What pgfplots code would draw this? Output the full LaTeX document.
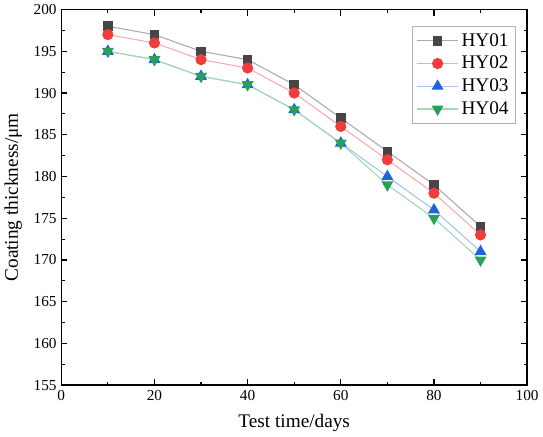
\documentclass[border=0pt]{standalone}
\usepackage{fontspec}
\setmainfont{Liberation Serif}
\usepackage{pgfplots}
\pgfplotsset{compat=1.18}

\definecolor{cA}{RGB}{70,70,70}
\definecolor{cAl}{RGB}{170,170,170}
\definecolor{cB}{RGB}{240,60,60}
\definecolor{cBl}{RGB}{250,170,170}
\definecolor{cC}{RGB}{30,100,220}
\definecolor{cCl}{RGB}{160,195,240}
\definecolor{cD}{RGB}{40,160,90}
\definecolor{cDl}{RGB}{160,215,180}

\begin{document}
\begin{tikzpicture}
\begin{axis}[
scale only axis,
width=351pt,
height=283pt,
xmin=0, xmax=100,
ymin=155, ymax=200,
xtick={0,20,...,100},
ytick={155,160,...,200},
minor x tick num=1,
minor y tick num=1,
tick align=inside,
major tick length=4.5pt,
minor tick length=2.5pt,
axis line style={line width=1.1pt},
every tick/.style={line width=0.9pt, black},
/pgf/number format/assume math mode=true,
tick label style={font=\fontsize{11.5}{12}\selectfont},
xlabel={Test time/days},
ylabel={Coating thickness/μm},
label style={font=\fontsize{14.5}{15}\selectfont},
xlabel style={yshift=-4pt},
ylabel style={yshift=2pt},
legend style={
    at={(0.975,0.955)},
    anchor=north east,
    draw=gray!60,
    font=\fontsize{14.5}{15}\selectfont,
    row sep=2pt,
    inner sep=3pt,
},
legend image code/.code={%
    \draw[mark repeat=2,mark phase=2] plot coordinates {(0cm,0cm)(0.55cm,0cm)(1.1cm,0cm)};},
legend cell align=left,
]
\addplot[cAl, line width=0.8pt, mark=square*, mark size=3.2pt, mark options={cA, solid}] coordinates {
(10,198)(20,197)(30,195)(40,194)(50,191)(60,187)(70,183)(80,179)(90,174)};
\addlegendentry{HY01}
\addplot[cBl, line width=0.8pt, mark=*, mark size=3.8pt, mark options={cB, solid}] coordinates {
(10,197)(20,196)(30,194)(40,193)(50,190)(60,186)(70,182)(80,178)(90,173)};
\addlegendentry{HY02}
\addplot[cCl, line width=0.8pt, mark=triangle*, mark size=4.4pt, mark options={cC, solid}] coordinates {
(10,195)(20,194)(30,192)(40,191)(50,188)(60,184)(70,180)(80,176)(90,171)};
\addlegendentry{HY03}
\addplot[cDl, line width=0.8pt, mark=triangle*, mark size=4.4pt, mark options={cD, solid, rotate=180}] coordinates {
(10,195)(20,194)(30,192)(40,191)(50,188)(60,184)(70,179)(80,175)(90,170)};
\addlegendentry{HY04}
\end{axis}
\path ([yshift=6pt]current axis.north);
\end{tikzpicture}
\end{document}
